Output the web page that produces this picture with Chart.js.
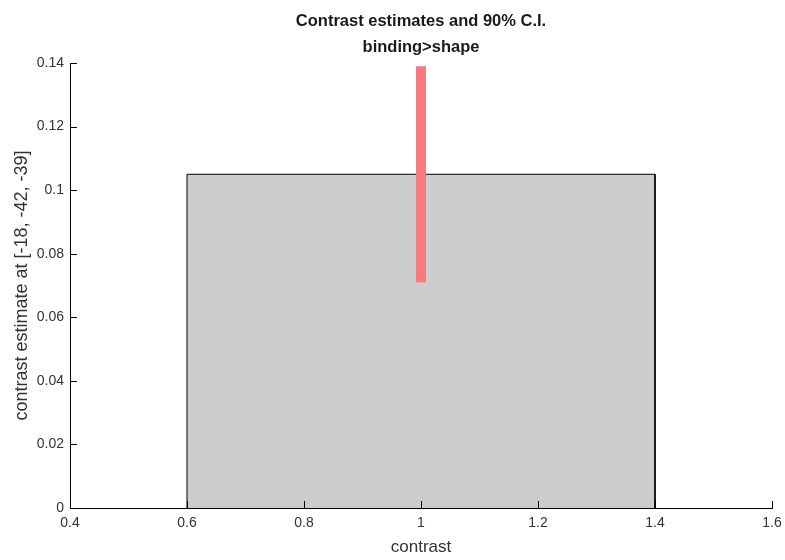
<!DOCTYPE html>
<html>
<head>
<meta charset="utf-8">
<script src="https://cdn.jsdelivr.net/npm/chart.js@4/dist/chart.umd.min.js"></script>
<style>
    html, body { margin: 0; padding: 0; background: #ffffff; }
    #wrap { width: 785px; height: 560px; }
</style>
</head>
<body>
<div id="wrap"><canvas id="contrast-chart" width="785" height="560"></canvas></div>
<script>
// Contrast estimate and its 90% confidence interval
const contrasts = [1];
const estimates = [0.105];
const ciLower = [0.071];
const ciUpper = [0.139];
const barWidth = 0.8;

// Axis ticks and their labels
const xTicks = [0.4, 0.6, 0.8, 1, 1.2, 1.4, 1.6];
const xTickLabels = ['0.4', '0.6', '0.8', '1', '1.2', '1.4', '1.6'];
const yTicks = [0, 0.02, 0.04, 0.06, 0.08, 0.1, 0.12, 0.14];
const yTickLabels = ['0', '0.02', '0.04', '0.06', '0.08', '0.1', '0.12', '0.14'];

const titleLines = ['Contrast estimates and 90% C.I.', 'binding>shape'];
const xTitle = 'contrast';
const yTitle = 'contrast estimate at [-18, -42, -39]';

// Bar outline: up the left edge, across the top, down the right edge
const barPoints = [];
contrasts.forEach((c, i) => {
    const left = c - barWidth / 2;
    const right = c + barWidth / 2;
    barPoints.push({ x: left, y: 0 }, { x: left, y: estimates[i] }, { x: right, y: estimates[i] }, { x: right, y: 0 });
});

// One vertical segment per contrast for the C.I.
const ciDatasets = contrasts.map((c, i) => ({
    data: [{ x: c, y: ciLower[i] }, { x: c, y: ciUpper[i] }],
    showLine: true,
    borderColor: 'rgb(246, 122, 127)',
    borderWidth: 10,
    borderCapStyle: 'butt',
    pointRadius: 0,
    fill: false,
    order: 0
}));

// Short tick marks pointing into the plot, drawn over the bars
const innerTicks = {
    id: 'innerTicks',
    afterDatasetsDraw(chart) {
        const { ctx, chartArea, scales } = chart;
        const len = 7;
        ctx.save();
        ctx.strokeStyle = '#000000';
        ctx.lineWidth = 1;
        ctx.beginPath();
        yTicks.forEach(v => {
            const py = Math.round(scales.y.getPixelForValue(v)) + 0.5;
            ctx.moveTo(chartArea.left, py);
            ctx.lineTo(chartArea.left + len, py);
        });
        xTicks.forEach(v => {
            const px = Math.round(scales.x.getPixelForValue(v)) + 0.5;
            ctx.moveTo(px, chartArea.bottom);
            ctx.lineTo(px, chartArea.bottom - len);
        });
        ctx.stroke();
        ctx.restore();
    }
};

const ctx = document.getElementById('contrast-chart');

new Chart(ctx, {
    type: 'scatter',
    data: {
        datasets: [
            ...ciDatasets,
            {
                data: barPoints,
                showLine: true,
                borderColor: '#000000',
                borderWidth: 1,
                backgroundColor: '#cccccc',
                pointRadius: 0,
                tension: 0,
                fill: 'origin',
                order: 1
            }
        ]
    },
    options: {
        responsive: false,
        animation: false,
        events: [],
        layout: {
            padding: { left: 0, right: 13, top: 0, bottom: 0 }
        },
        plugins: {
            legend: { display: false },
            tooltip: { enabled: false },
            title: {
                display: true,
                fullSize: false,
                text: titleLines,
                color: '#1a1a1a',
                font: { family: "'Liberation Sans', Arial, sans-serif", size: 16.5, weight: 'bold', lineHeight: '26px' },
                padding: { top: 8, bottom: 3 }
            }
        },
        scales: {
            x: {
                type: 'linear',
                min: 0.4,
                max: 1.6,
                afterBuildTicks: scale => { scale.ticks = xTicks.map(v => ({ value: v })); },
                afterFit: scale => {
                    scale.height = 52;
                    scale.paddingLeft = 0;
                    scale.paddingRight = 0;
                },
                grid: { display: false, drawTicks: false },
                border: { display: true, color: '#000000', width: 1 },
                ticks: {
                    autoSkip: false,
                    maxRotation: 0,
                    padding: 7,
                    color: '#333333',
                    font: { family: "'Liberation Sans', Arial, sans-serif", size: 14 },
                    callback: (value, index) => xTickLabels[index]
                },
                title: {
                    display: true,
                    text: xTitle,
                    color: '#333333',
                    font: { family: "'Liberation Sans', Arial, sans-serif", size: 17, lineHeight: 1.2 },
                    padding: { top: 0, bottom: 2 }
                }
            },
            y: {
                type: 'linear',
                min: 0,
                max: 0.14,
                afterBuildTicks: scale => { scale.ticks = yTicks.map(v => ({ value: v })); },
                afterFit: scale => {
                    scale.width = 70;
                    scale.paddingTop = 0;
                    scale.paddingBottom = 0;
                },
                grid: { display: false, drawTicks: false },
                border: { display: true, color: '#000000', width: 1 },
                ticks: {
                    autoSkip: false,
                    padding: 6,
                    color: '#333333',
                    font: { family: "'Liberation Sans', Arial, sans-serif", size: 14 },
                    callback: (value, index) => yTickLabels[index]
                },
                title: {
                    display: true,
                    text: yTitle,
                    color: '#333333',
                    font: { family: "'Liberation Sans', Arial, sans-serif", size: 18, lineHeight: 1.2 },
                    padding: { top: 11, bottom: 0 }
                }
            }
        }
    },
    plugins: [innerTicks]
});
</script>
</body>
</html>
